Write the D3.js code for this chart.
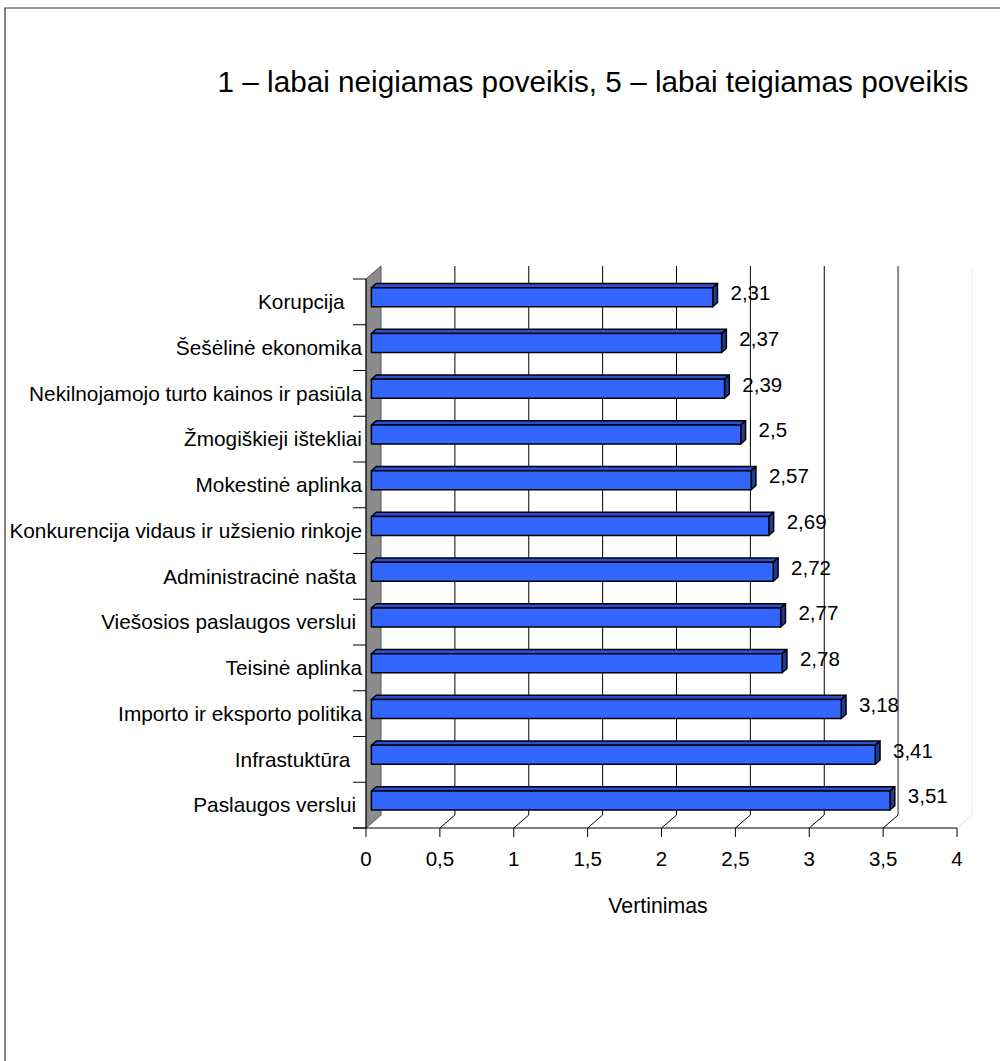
<!DOCTYPE html>
<html>
<head>
<meta charset="utf-8">
<script src="https://cdn.jsdelivr.net/npm/d3@7"></script>
<style>
  html, body { margin: 0; padding: 0; background: #fff; }
  svg text { font-family: "Liberation Sans", Arial, sans-serif; fill: #000; white-space: pre; }
</style>
</head>
<body>
<svg id="chart" width="1000" height="1061"></svg>
<script>
// 3D-style horizontal bar chart: factor ratings (1 = very negative, 5 = very positive)

const categories = [
  "Korupcija   ",
  "Šešėlinė ekonomika",
  "Nekilnojamojo turto kainos ir pasiūla",
  "Žmogiškieji ištekliai",
  "Mokestinė aplinka",
  "Konkurencija vidaus ir užsienio rinkoje",
  "Administracinė našta ",
  "Viešosios paslaugos verslui ",
  "Teisinė aplinka",
  "Importo ir eksporto politika",
  "Infrastuktūra  ",
  "Paslaugos verslui "
];
const values = [2.31, 2.37, 2.39, 2.5, 2.57, 2.69, 2.72, 2.77, 2.78, 3.18, 3.41, 3.51];
const tickValues = [0, 0.5, 1, 1.5, 2, 2.5, 3, 3.5, 4];

const title = "1 – labai neigiamas poveikis, 5 – labai teigiamas poveikis";
const axisTitle = "Vertinimas";

const lt = d3.formatLocale({ decimal: ",", thousands: " ", grouping: [3], currency: ["", " €"] });
const fmt = lt.format("~g");

const svg = d3.select("#chart");

// outer frame (top and left edges only)
svg.append("path")
  .attr("d", "M5,1061 V8 H1000")
  .attr("fill", "none")
  .attr("stroke", "#333")
  .attr("stroke-width", 1.2);

// front plane scales
const x = d3.scaleLinear().domain([0, 4]).range([366, 957]);
const y = d3.scaleBand().domain(categories).range([279, 828]);

// depth vector from front plane to back wall
const DX = 15, DY = -13;
const d1 = 0.36, d2 = 0.68;   // bar front / back depth fraction
const barH = 19;

const yTop = y.range()[0], yBot = y.range()[1];

// back wall gridlines
svg.append("g").selectAll("line")
  .data(tickValues.slice(1))
  .join("line")
  .attr("x1", d => x(d) + DX).attr("x2", d => x(d) + DX)
  .attr("y1", yTop + DY).attr("y2", yBot + DY)
  .attr("stroke", d => d === 4 ? "#ececec" : (d === 3.5 ? "#8a8a8a" : "#000"))
  .attr("stroke-width", d => d === 3.5 ? 2 : 1);

// floor: slanted lines from front ticks to back wall
svg.append("g").selectAll("line")
  .data(tickValues.slice(1))
  .join("line")
  .attr("x1", d => x(d)).attr("y1", yBot)
  .attr("x2", d => x(d) + DX).attr("y2", yBot + DY)
  .attr("stroke", d => d === 4 ? "#e6e6e6" : "#000")
  .attr("stroke-width", 1);

// left side wall
svg.append("path")
  .attr("d", `M${x(0)},${yTop} L${x(0) + DX},${yTop + DY} L${x(0) + DX},${yBot + DY} L${x(0)},${yBot} Z`)
  .attr("fill", "#8c8c8c")
  .attr("stroke", "#555")
  .attr("stroke-width", 1);

// left axis + category ticks
svg.append("line")
  .attr("x1", x(0)).attr("x2", x(0))
  .attr("y1", yTop).attr("y2", yBot)
  .attr("stroke", "#000");

const bandEdges = categories.map(c => y(c)).concat([yBot]);
svg.append("g").selectAll("line")
  .data(bandEdges)
  .join("line")
  .attr("x1", x(0) - 13).attr("x2", x(0))
  .attr("y1", d => d).attr("y2", d => d)
  .attr("stroke", "#000");

// bottom axis
svg.append("line")
  .attr("x1", x(0) - 13).attr("x2", x(4))
  .attr("y1", yBot).attr("y2", yBot)
  .attr("stroke", "#000");

svg.append("g").selectAll("line")
  .data(tickValues)
  .join("line")
  .attr("x1", d => x(d)).attr("x2", d => x(d))
  .attr("y1", yBot).attr("y2", yBot + 9)
  .attr("stroke", "#000");

svg.append("g").selectAll("text")
  .data(tickValues)
  .join("text")
  .attr("x", d => x(d))
  .attr("y", yBot + 38)
  .attr("text-anchor", "middle")
  .attr("font-size", 20.5)
  .text(d => fmt(d));

// category labels
svg.append("g").selectAll("text")
  .data(categories)
  .join("text")
  .attr("x", 362)
  .attr("y", d => y(d) + y.bandwidth() / 2)
  .attr("dy", "0.35em")
  .attr("text-anchor", "end")
  .attr("font-size", 20.8)
  .text(d => d);

// bars
const rows = categories.map((c, i) => ({ cat: c, value: values[i] }));

const bars = svg.append("g").selectAll("g")
  .data(rows)
  .join("g");

function pt(v, cy, depth, dir) {
  return [x(v) + depth * DX, cy + depth * DY + dir * barH / 2];
}

bars.each(function(d) {
  const g = d3.select(this);
  const cy = y(d.cat) + y.bandwidth() / 2;
  const fTL = pt(0, cy, d1, -1), fTR = pt(d.value, cy, d1, -1);
  const fBL = pt(0, cy, d1, 1), fBR = pt(d.value, cy, d1, 1);
  const bTL = pt(0, cy, d2, -1), bTR = pt(d.value, cy, d2, -1);
  const bBR = pt(d.value, cy, d2, 1);
  const poly = pts => "M" + pts.map(p => p.join(",")).join("L") + "Z";

  g.append("path").attr("d", poly([fTL, bTL, bTR, fTR]))
    .attr("fill", "#2a50d8").attr("stroke", "#000").attr("stroke-width", 1.5)
    .attr("stroke-linejoin", "round");
  g.append("path").attr("d", poly([fTR, bTR, bBR, fBR]))
    .attr("fill", "#1f3a93").attr("stroke", "#000").attr("stroke-width", 1.5)
    .attr("stroke-linejoin", "round");
  g.append("path").attr("d", poly([fTL, fTR, fBR, fBL]))
    .attr("fill", "#3366ff").attr("stroke", "#000").attr("stroke-width", 1.5)
    .attr("stroke-linejoin", "round");

  g.append("text")
    .attr("x", bTR[0] + 13)
    .attr("y", cy + d2 * DY)
    .attr("dy", "0.35em")
    .attr("font-size", 20.5)
    .text(fmt(d.value));
});

// titles
svg.append("text")
  .attr("x", 593).attr("y", 92)
  .attr("text-anchor", "middle")
  .attr("font-size", 29.7)
  .text(title);

svg.append("text")
  .attr("x", 658).attr("y", 913)
  .attr("text-anchor", "middle")
  .attr("font-size", 21.3)
  .text(axisTitle);
</script>
</body>
</html>
